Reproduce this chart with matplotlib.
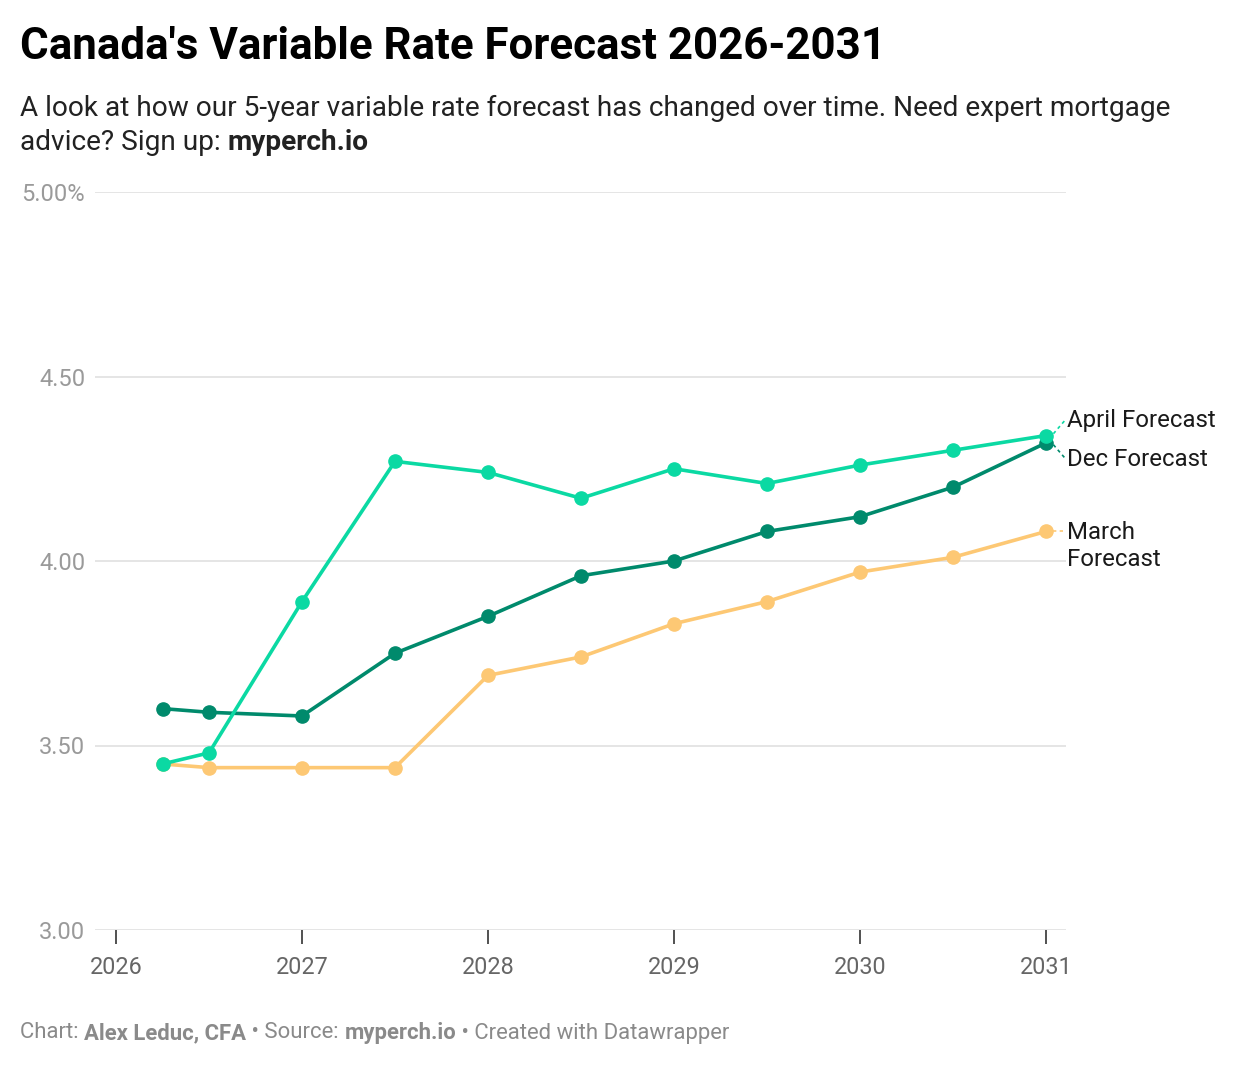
import matplotlib

matplotlib.use("Agg")
import matplotlib.pyplot as plt

plt.rcParams["font.family"] = ["Roboto", "DejaVu Sans"]

# ---- data ---------------------------------------------------------------
dates = [2026.25, 2026.5, 2027.0, 2027.5, 2028.0, 2028.5,
         2029.0, 2029.5, 2030.0, 2030.5, 2031.0]
dec_fc = [3.60, 3.59, 3.58, 3.75, 3.85, 3.96, 4.00, 4.08, 4.12, 4.20, 4.32]
april_fc = [3.45, 3.48, 3.89, 4.27, 4.24, 4.17, 4.25, 4.21, 4.26, 4.30, 4.34]
march_fc = [3.45, 3.44, 3.44, 3.44, 3.69, 3.74, 3.83, 3.89, 3.97, 4.01, 4.08]

y_ticks = [3.0, 3.5, 4.0, 4.5, 5.0]
y_labels = ["3.00", "3.50", "4.00", "4.50", "5.00%"]
x_ticks = [2026, 2027, 2028, 2029, 2030, 2031]

C_DEC = "#008a6c"
C_APR = "#0bd9a3"
C_MAR = "#fdc874"

W, H = 1240, 1066
fig = plt.figure(figsize=(W / 100, H / 100), dpi=100)
ax = fig.add_axes([95 / W, 1 - 930 / H, (1066 - 95) / W, (930 - 192) / H])

ax.set_ylim(3.0, 5.0)
ax.set_xlim(2026 - 21 / 185.8, 2031 + 20 / 185.8)

for v in y_ticks:
    ax.axhline(v, color="#e3e3e3", lw=1.3, zorder=0)

series = [(march_fc, C_MAR), (dec_fc, C_DEC), (april_fc, C_APR)]
for vals, col in series:
    ax.plot(dates, vals, color=col, lw=2.6, marker="o", ms=9.5,
            solid_capstyle="round", zorder=3, clip_on=False)

for s in ax.spines.values():
    s.set_visible(False)

ax.set_yticks(y_ticks)
ax.set_yticklabels(y_labels)
ax.tick_params(axis="y", length=0, pad=7, labelsize=17, labelcolor="#9a9a9a")
ax.set_xticks(x_ticks)
ax.set_xticklabels([str(x) for x in x_ticks])
ax.tick_params(axis="x", length=10, width=1.2, color="#333333", pad=9,
               labelsize=16.8, labelcolor="#666666")

# ---- direct labels with dotted leaders ---------------------------------
lx = 2031 + 20 / 185.8 + 1 / 185.8
ax.plot([2031.04, 2031.1], [april_fc[-1] + 0.005, 4.38], color=C_APR,
        lw=1.2, ls=(0, (2, 2)), clip_on=False)
ax.plot([2031.04, 2031.1], [dec_fc[-1] - 0.005, 4.28], color=C_DEC,
        lw=1.2, ls=(0, (2, 2)), clip_on=False)
ax.plot([2031.04, 2031.1], [march_fc[-1], march_fc[-1]], color=C_MAR,
        lw=1.2, ls=(0, (2, 2)), clip_on=False)
ax.text(lx, 4.38, "April Forecast", fontsize=17.3, color="#1a1a1a",
        va="center", ha="left", clip_on=False)
ax.text(lx, 4.275, "Dec Forecast", fontsize=17.3, color="#1a1a1a",
        va="center", ha="left", clip_on=False)
ax.text(lx, 4.04, "March\nForecast", fontsize=17.3, color="#1a1a1a",
        va="center", ha="left", linespacing=1.25, clip_on=False)

# ---- titles and footer --------------------------------------------------
fig.text(20 / W, 1 - 47 / H, "Canada's Variable Rate Forecast 2026-2031",
         fontsize=31.6, fontweight="bold", color="#000000", va="center")
fig.text(20 / W, 1 - 108 / H,
         "A look at how our 5-year variable rate forecast has changed over time. "
         "Need expert mortgage", fontsize=20.2, color="#222222", va="center")
t = fig.text(20 / W, 1 - 142 / H, "advice? Sign up: ", fontsize=20.2,
             color="#222222", va="center")
fig.canvas.draw()
bb = t.get_window_extent()
fig.text(bb.x1 / W, 1 - 142 / H, "myperch.io", fontsize=20.2,
         fontweight="bold", color="#222222", va="center")

parts = [("Chart: ", "normal"), ("Alex Leduc, CFA", "bold"),
         (" • Source: ", "normal"), ("myperch.io", "bold"),
         (" • Created with Datawrapper", "normal")]
x = 20
for txt, wt in parts:
    tt = fig.text(x / W, 1 - 1033 / H, txt, fontsize=15.9, fontweight=wt,
                  color="#8a8a8a", va="center")
    fig.canvas.draw()
    x = tt.get_window_extent().x1

fig.savefig("out.png", dpi=100)
